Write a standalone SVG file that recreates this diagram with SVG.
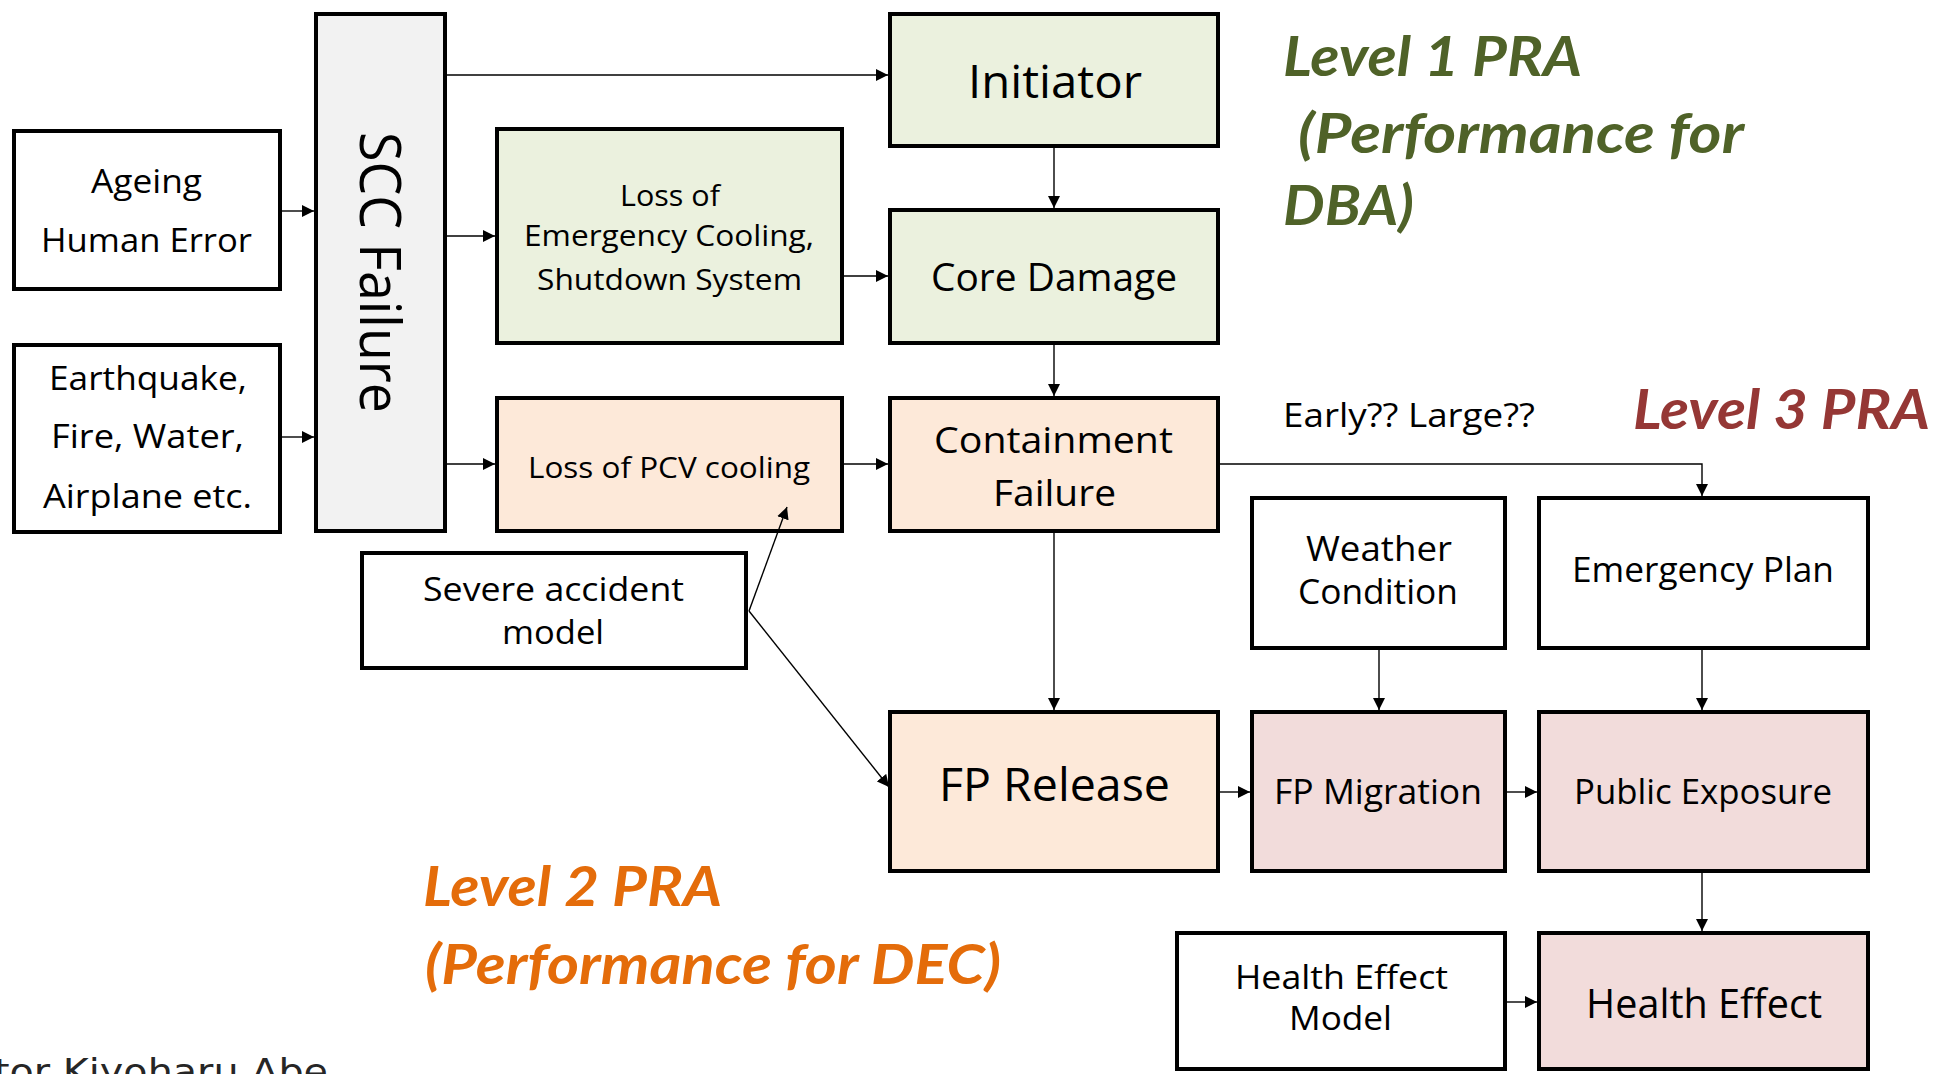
<svg xmlns="http://www.w3.org/2000/svg" width="1937" height="1074" viewBox="0 0 1937 1074">
  <style>
    .box { stroke: #000; stroke-width: 4; }
    .white { fill: #ffffff; }
    .grey { fill: #f2f2f2; }
    .green { fill: #ebf1de; }
    .peach { fill: #fde9d9; }
    .pink { fill: #f2dcdb; }
    .t { font-family: "Open Sans", "Noto Sans", "Liberation Sans", sans-serif; fill: #000; }
    .lv { font-family: Lato, "Open Sans", "Liberation Sans", sans-serif; font-weight: bold; font-style: italic; }
    .lv1 { fill: #4f6228; }
    .lv2 { fill: #e46c0a; }
    .lv3 { fill: #953735; }
    .c { stroke: #000; stroke-width: 1.4; fill: none; marker-end: url(#ah); }
    .credit { font-family: "DejaVu Sans", "Liberation Sans", sans-serif; fill: #262626; }
  </style>
  <defs>
    <marker id="ah" markerUnits="userSpaceOnUse" markerWidth="12" markerHeight="12" refX="12" refY="6" orient="auto">
      <path d="M0,0 L12,6 L0,12 z" fill="#000"/>
    </marker>
  </defs>

  <rect width="1937" height="1074" fill="#ffffff"/>

  <!-- nodes -->
  <g id="ageing">
    <rect class="box white" x="14" y="131" width="266" height="158"/>
    <text class="t" x="91" y="193" font-size="33" textLength="111" lengthAdjust="spacingAndGlyphs">Ageing</text>
    <text class="t" x="41" y="252" font-size="33" textLength="211" lengthAdjust="spacingAndGlyphs">Human Error</text>
  </g>

  <g id="hazards">
    <rect class="box white" x="14" y="345" width="266" height="187"/>
    <text class="t" x="49" y="390" font-size="33" textLength="198" lengthAdjust="spacingAndGlyphs">Earthquake,</text>
    <text class="t" x="51" y="448" font-size="33" textLength="193" lengthAdjust="spacingAndGlyphs">Fire, Water,</text>
    <text class="t" x="43" y="508" font-size="33" textLength="209" lengthAdjust="spacingAndGlyphs">Airplane etc.</text>
  </g>

  <g id="scc-failure">
    <rect class="box grey" x="316" y="14" width="129" height="517"/>
    <text class="t" transform="translate(360,132) rotate(90)" x="0" y="0" font-size="56" textLength="281" lengthAdjust="spacingAndGlyphs">SCC Failure</text>
  </g>

  <g id="loss-emergency-cooling">
    <rect class="box green" x="497" y="129" width="345" height="214"/>
    <text class="t" x="620" y="206" font-size="29" textLength="100" lengthAdjust="spacingAndGlyphs">Loss of</text>
    <text class="t" x="524" y="246" font-size="29" textLength="290" lengthAdjust="spacingAndGlyphs">Emergency Cooling,</text>
    <text class="t" x="537" y="290" font-size="29" textLength="265" lengthAdjust="spacingAndGlyphs">Shutdown System</text>
  </g>

  <g id="loss-pcv-cooling">
    <rect class="box peach" x="497" y="398" width="345" height="133"/>
    <text class="t" x="528" y="478" font-size="29" textLength="282" lengthAdjust="spacingAndGlyphs">Loss of PCV cooling</text>
  </g>

  <g id="initiator">
    <rect class="box green" x="890" y="14" width="328" height="132"/>
    <text class="t" x="968" y="98" font-size="45" textLength="174" lengthAdjust="spacingAndGlyphs">Initiator</text>
  </g>

  <g id="core-damage">
    <rect class="box green" x="890" y="210" width="328" height="133"/>
    <text class="t" x="931" y="291" font-size="38" textLength="246" lengthAdjust="spacingAndGlyphs">Core Damage</text>
  </g>

  <g id="containment-failure">
    <rect class="box peach" x="890" y="398" width="328" height="133"/>
    <text class="t" x="934" y="453" font-size="37" textLength="239" lengthAdjust="spacingAndGlyphs">Containment</text>
    <text class="t" x="993" y="506" font-size="37" textLength="123" lengthAdjust="spacingAndGlyphs">Failure</text>
  </g>

  <g id="severe-accident-model">
    <rect class="box white" x="362" y="553" width="384" height="115"/>
    <text class="t" x="423" y="601" font-size="32" textLength="261" lengthAdjust="spacingAndGlyphs">Severe accident</text>
    <text class="t" x="502" y="644" font-size="32" textLength="102" lengthAdjust="spacingAndGlyphs">model</text>
  </g>

  <g id="weather-condition">
    <rect class="box white" x="1252" y="498" width="253" height="150"/>
    <text class="t" x="1306" y="561" font-size="34" textLength="146" lengthAdjust="spacingAndGlyphs">Weather</text>
    <text class="t" x="1298" y="604" font-size="34" textLength="160" lengthAdjust="spacingAndGlyphs">Condition</text>
  </g>

  <g id="emergency-plan">
    <rect class="box white" x="1539" y="498" width="329" height="150"/>
    <text class="t" x="1572" y="582" font-size="34" textLength="262" lengthAdjust="spacingAndGlyphs">Emergency Plan</text>
  </g>

  <g id="fp-release">
    <rect class="box peach" x="890" y="712" width="328" height="159"/>
    <text class="t" x="939" y="801" font-size="45" textLength="231" lengthAdjust="spacingAndGlyphs">FP Release</text>
  </g>

  <g id="fp-migration">
    <rect class="box pink" x="1252" y="712" width="253" height="159"/>
    <text class="t" x="1274" y="804" font-size="35" textLength="208" lengthAdjust="spacingAndGlyphs">FP Migration</text>
  </g>

  <g id="public-exposure">
    <rect class="box pink" x="1539" y="712" width="329" height="159"/>
    <text class="t" x="1574" y="804" font-size="35" textLength="258" lengthAdjust="spacingAndGlyphs">Public Exposure</text>
  </g>

  <g id="health-effect-model">
    <rect class="box white" x="1177" y="933" width="328" height="136"/>
    <text class="t" x="1235" y="989" font-size="33" textLength="213" lengthAdjust="spacingAndGlyphs">Health Effect</text>
    <text class="t" x="1289" y="1030" font-size="33" textLength="103" lengthAdjust="spacingAndGlyphs">Model</text>
  </g>

  <g id="health-effect">
    <rect class="box pink" x="1539" y="933" width="329" height="136"/>
    <text class="t" x="1586" y="1018" font-size="40" textLength="236" lengthAdjust="spacingAndGlyphs">Health Effect</text>
  </g>

  <!-- connectors, drawn over the boxes so arrowheads ending inside a box stay visible -->
  <g id="connectors">
    <line class="c" x1="447" y1="75" x2="888" y2="75"/>
    <line class="c" x1="282" y1="211" x2="314" y2="211"/>
    <line class="c" x1="447" y1="236" x2="495" y2="236"/>
    <line class="c" x1="844" y1="276" x2="888" y2="276"/>
    <line class="c" x1="282" y1="437" x2="314" y2="437"/>
    <line class="c" x1="447" y1="464" x2="495" y2="464"/>
    <line class="c" x1="844" y1="464" x2="888" y2="464"/>
    <line class="c" x1="1054" y1="148" x2="1054" y2="208"/>
    <line class="c" x1="1054" y1="345" x2="1054" y2="396"/>
    <line class="c" x1="1054" y1="533" x2="1054" y2="710"/>
    <polyline class="c" points="1220,464 1702,464 1702,496"/>
    <line class="c" x1="1379" y1="650" x2="1379" y2="710"/>
    <line class="c" x1="1702" y1="650" x2="1702" y2="710"/>
    <line class="c" x1="1220" y1="792" x2="1250" y2="792"/>
    <line class="c" x1="1507" y1="792" x2="1537" y2="792"/>
    <line class="c" x1="1702" y1="873" x2="1702" y2="931"/>
    <line class="c" x1="1507" y1="1002" x2="1537" y2="1002"/>
    <line class="c" x1="749" y1="611" x2="787" y2="507"/>
    <line class="c" x1="749" y1="611" x2="889" y2="787"/>
  </g>

  <!-- level annotations -->
  <g id="level1-label" class="lv lv1" font-size="56">
    <text x="1283" y="76" textLength="299" lengthAdjust="spacingAndGlyphs">Level 1 PRA</text>
    <text x="1298" y="153" textLength="446" lengthAdjust="spacingAndGlyphs">(Performance for</text>
    <text x="1283" y="225" textLength="131" lengthAdjust="spacingAndGlyphs">DBA)</text>
  </g>

  <g id="level2-label" class="lv lv2" font-size="56">
    <text x="423" y="906" textLength="299" lengthAdjust="spacingAndGlyphs">Level 2 PRA</text>
    <text x="425" y="984" textLength="576" lengthAdjust="spacingAndGlyphs">(Performance for DEC)</text>
  </g>

  <g id="level3-label" class="lv lv3" font-size="56">
    <text x="1633" y="429" textLength="297" lengthAdjust="spacingAndGlyphs">Level 3 PRA</text>
  </g>

  <g id="release-note">
    <text class="t" x="1283" y="427" font-size="32" textLength="252" lengthAdjust="spacingAndGlyphs">Early?? Large??</text>
  </g>

  <text class="credit" x="-6" y="1084" font-size="36" textLength="334" lengthAdjust="spacingAndGlyphs">tor Kiyoharu Abe</text>
</svg>
